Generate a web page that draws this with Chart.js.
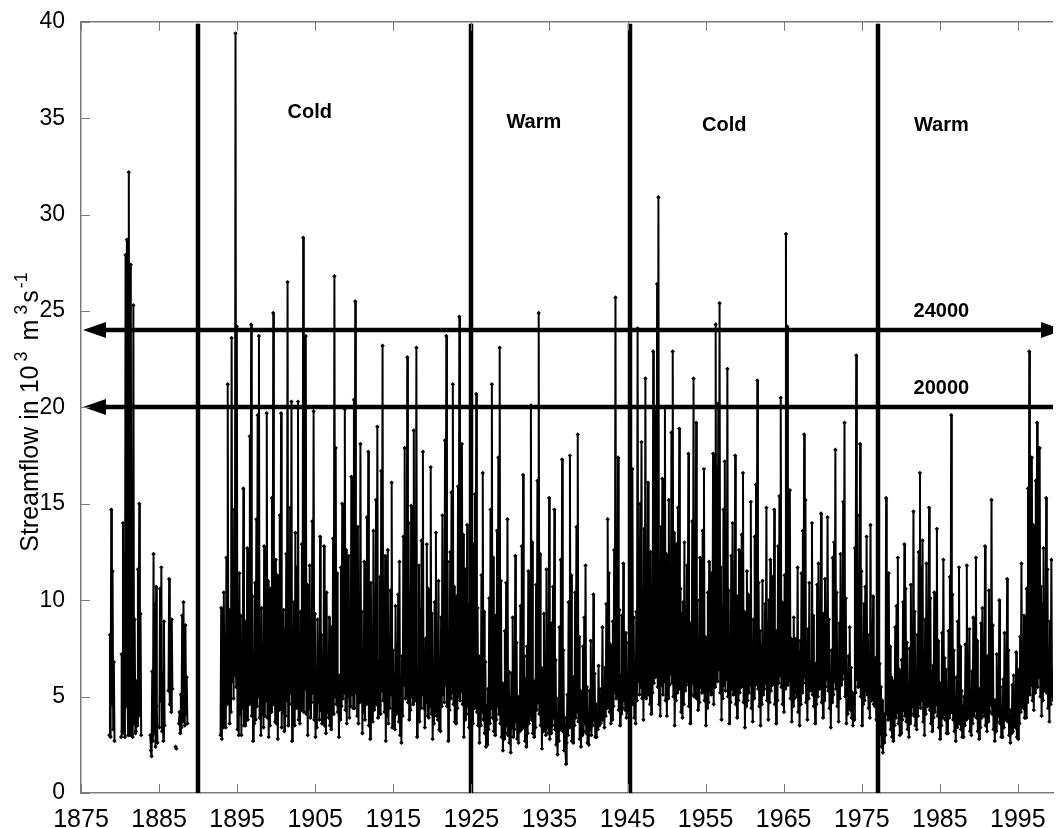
<!DOCTYPE html>
<html>
<head>
<meta charset="utf-8">
<title>Streamflow</title>
<script src="https://cdn.jsdelivr.net/npm/chart.js@4.4.1/dist/chart.umd.min.js"></script>
<style>
  html, body { margin: 0; padding: 0; background: #fff; }
  #wrap { width: 1057px; height: 828px; }
</style>
</head>
<body>
<div id="wrap"><canvas id="flowChart"></canvas></div>
<script>
// axis ticks
const xTicks = [1875, 1885, 1895, 1905, 1915, 1925, 1935, 1945, 1955, 1965, 1975, 1985, 1995];
const yTicks = [0, 5, 10, 15, 20, 25, 30, 35, 40];

// regime boundaries (years) and names
const regimeBreaks = [1890, 1924.9, 1945.3, 1977.1];
const regimeNames = ['Cold', 'Warm', 'Cold', 'Warm'];
const regimeNameYear = [1904.3, 1933.0, 1957.4, 1985.2];
const regimeNameFlow = [35.3, 34.8, 34.6, 34.6];

// flood thresholds (10^3 m3/s)
const thresholds = [24, 20];
const thresholdNames = ['24000', '20000'];
const thresholdNameYear = [1985.2, 1985.2];

// streamflow, 12 readings per year, one row per year (null = no record)
const flow1878 = [
  [null, null, null, null, null, null, null, 3.0, 8.2, 2.9, 14.7, 4.6],
  [11.5, 3.3, 6.8, 2.7, null, null, null, null, null, null, null, null],
  [null, 2.9, 7.2, 3.2, 14.0, 3.1, 12.4, 2.9, 27.9, 4.5, 28.7, 5.0],
  [3.0, 32.2, 6.1, 3.0, 27.4, 4.8, 12.8, 2.9, 25.3, 3.6, 9.0, 3.1],
  [3.2, 5.8, 3.5, 11.6, 4.0, 15.0, 4.1, 9.3, 3.0, null, null, null],
  [null, null, null, null, null, null, null, null, null, null, 3.0, 2.2],
  [1.9, 6.3, 2.7, 12.4, 3.1, 9.8, 2.4, 10.7, 4.5, 2.6, null, null],
  [3.4, 10.6, 4.8, 11.7, 3.2, 6.2, 2.7, 8.9, 3.5, null, null, null],
  [null, null, 5.3, 11.1, 4.6, 7.9, 4.2, 9.0, 5.4, null, null, null],
  [null, 2.4, 2.3, null, null, null, 3.6, 4.2, 3.1, 5.1, 3.4, 9.2],
  [3.7, 9.9, 5.0, 3.5, 8.7, 4.1, 6.0, 3.6, null, null, null, null]
];

const flow1892 = [
  [null, null, null, null, null, null, null, null, null, null, 3.0, 9.6],
  [2.8, 6.5, 3.4, 10.4, 4.1, 8.2, 3.4, 12.2, 4.6, 21.2, 5.3, 9.5],
  [3.6, 8.4, 4.2, 23.6, 5.8, 11.8, 4.9, 14.7, 6.1, 39.4, 5.5, 24.2],
  [3.3, 6.7, 3.0, 11.4, 4.1, 9.2, 3.0, 7.8, 4.4, 15.8, 3.5, 5.5],
  [3.5, 8.9, 4.3, 12.7, 3.8, 9.9, 4.6, 18.5, 5.2, 24.3, 4.0, 10.2],
  [2.7, 5.8, 3.6, 10.9, 3.8, 14.2, 4.5, 19.6, 5.0, 23.7, 3.9, 6.3],
  [3.0, 9.6, 4.1, 5.2, 3.4, 12.8, 4.0, 8.1, 4.8, 19.7, 3.9, 11.0],
  [2.9, 7.4, 3.5, 10.6, 4.2, 15.3, 5.1, 24.9, 4.6, 9.8, 3.7, 12.1],
  [3.6, 11.3, 2.8, 6.9, 4.3, 14.4, 5.0, 19.7, 3.4, 7.2, 4.2, 9.5],
  [3.2, 8.5, 4.0, 12.4, 4.8, 26.5, 3.5, 10.2, 4.6, 14.8, 5.2, 20.3],
  [2.7, 6.6, 3.9, 9.9, 3.5, 13.5, 4.4, 11.7, 5.0, 20.3, 3.8, 8.0],
  [3.6, 9.4, 4.3, 12.9, 5.1, 28.8, 4.2, 15.6, 5.4, 23.7, 4.1, 10.8],
  [3.0, 7.9, 4.4, 11.8, 3.9, 6.8, 4.7, 14.1, 5.2, 19.8, 3.8, 9.3],
  [2.9, 5.5, 3.4, 9.0, 4.7, 7.2, 3.8, 13.3, 4.3, 8.2, 3.6, 6.9],
  [4.0, 12.8, 3.5, 6.4, 3.1, 10.4, 4.2, 5.8, 3.9, 9.1, 3.5, 7.7],
  [3.3, 8.6, 4.9, 13.2, 4.1, 26.8, 5.0, 17.9, 4.6, 11.4, 4.2, 6.0],
  [2.9, 6.1, 3.8, 11.7, 4.5, 15.0, 4.9, 8.8, 5.2, 19.9, 4.3, 12.6],
  [3.6, 9.8, 5.0, 12.3, 3.9, 7.4, 4.5, 16.4, 5.1, 10.1, 4.4, 20.4],
  [4.4, 25.5, 5.2, 10.6, 4.0, 13.8, 3.6, 9.2, 4.7, 18.1, 4.8, 9.4],
  [3.1, 7.5, 4.2, 12.0, 3.8, 9.7, 4.6, 14.3, 5.0, 17.7, 3.5, 6.8],
  [2.8, 10.9, 4.1, 5.9, 3.7, 13.6, 4.3, 8.4, 5.0, 15.2, 4.6, 19.0],
  [3.9, 6.8, 4.6, 11.2, 4.1, 16.7, 5.3, 23.2, 4.8, 9.9, 4.2, 12.3],
  [2.7, 8.3, 4.0, 12.6, 3.6, 6.2, 4.4, 10.5, 5.1, 16.1, 3.4, 7.4],
  [3.5, 5.9, 3.3, 9.7, 4.1, 7.6, 4.5, 10.3, 3.7, 12.0, 3.0, 5.2],
  [2.6, 7.1, 4.0, 13.3, 5.6, 17.9, 4.9, 9.2, 5.3, 22.6, 4.7, 14.0],
  [3.8, 10.4, 4.3, 14.9, 5.0, 7.7, 4.6, 18.8, 5.2, 11.5, 4.8, 23.1],
  [2.9, 6.4, 4.0, 11.8, 3.7, 9.5, 4.4, 13.1, 5.1, 17.7, 4.4, 7.0],
  [3.4, 8.0, 4.7, 12.9, 4.0, 10.6, 3.9, 6.3, 4.5, 16.9, 4.1, 9.3],
  [2.8, 5.2, 3.6, 9.9, 4.2, 13.5, 4.0, 7.3, 3.8, 11.0, 3.3, 6.1],
  [3.2, 9.1, 4.5, 14.4, 5.1, 8.2, 4.7, 18.3, 5.6, 23.7, 4.5, 12.0],
  [2.7, 7.8, 4.3, 12.5, 4.9, 15.6, 5.2, 21.2, 4.6, 10.7, 3.7, 6.3],
  [3.6, 10.2, 4.4, 15.9, 5.0, 24.7, 4.8, 8.8, 5.3, 18.1, 4.6, 13.4],
  [2.9, 6.7, 3.8, 11.6, 4.1, 13.9, 4.5, 7.5, 3.4, 9.8, 3.9, 5.0]
];

const flow1925 = [
  [4.0, 8.7, 3.6, 12.9, 4.4, 15.5, 5.1, 20.7, 4.2, 9.6, 3.5, 7.1],
  [2.6, 7.0, 3.5, 11.3, 4.2, 16.6, 3.8, 9.4, 3.1, 6.8, 2.4, 4.5],
  [2.5, 5.4, 3.3, 10.1, 3.6, 14.7, 4.4, 21.2, 3.9, 12.2, 3.2, 4.0],
  [3.0, 9.2, 3.8, 13.6, 4.5, 17.4, 4.1, 23.1, 3.6, 11.0, 2.9, 5.7],
  [2.2, 4.6, 2.8, 8.4, 3.1, 10.9, 3.5, 14.2, 3.0, 6.3, 2.6, 5.0],
  [2.1, 6.2, 3.4, 9.1, 2.9, 4.5, 3.3, 12.3, 3.7, 7.8, 2.8, 4.9],
  [2.6, 5.0, 3.2, 9.7, 3.3, 12.8, 3.9, 16.5, 3.4, 7.1, 2.7, 5.9],
  [2.4, 7.6, 3.1, 11.5, 3.6, 6.6, 4.0, 20.1, 3.8, 13.0, 3.1, 5.2],
  [2.9, 5.8, 3.4, 10.8, 4.3, 16.2, 4.7, 24.9, 4.1, 12.4, 3.5, 6.5],
  [2.3, 6.4, 3.2, 9.3, 3.6, 4.8, 3.0, 11.6, 3.4, 7.0, 3.1, 15.3],
  [2.8, 5.6, 3.1, 8.8, 3.5, 10.7, 3.9, 14.7, 3.3, 6.9, 2.5, 4.0],
  [2.0, 4.9, 2.7, 8.6, 3.3, 12.1, 3.8, 17.3, 3.2, 7.4, 2.2, 3.9],
  [2.3, 1.5, 2.6, 5.1, 3.0, 9.9, 3.4, 17.5, 3.9, 11.3, 2.7, 4.6],
  [2.6, 6.0, 3.5, 10.4, 3.9, 13.8, 4.2, 18.6, 3.7, 8.1, 2.8, 5.3],
  [2.4, 4.4, 3.0, 7.6, 3.2, 9.1, 3.6, 11.8, 3.1, 5.5, 2.6, 4.0],
  [2.5, 5.3, 3.3, 7.9, 3.0, 4.1, 3.5, 10.3, 3.8, 6.2, 2.9, 4.6],
  [2.9, 4.3, 3.3, 6.6, 3.5, 5.4, 3.6, 4.0, 3.9, 8.6, 3.8, 5.1],
  [3.4, 6.5, 4.0, 9.8, 4.4, 14.2, 5.0, 11.4, 4.2, 7.7, 3.6, 5.3],
  [3.8, 8.9, 4.5, 12.6, 5.2, 25.7, 4.9, 13.1, 5.4, 17.4, 4.3, 9.5],
  [3.5, 6.1, 4.1, 9.2, 4.4, 11.9, 4.8, 7.0, 4.3, 8.3, 3.9, 5.6]
];

const flow1945 = [
  [4.2, 7.8, 4.6, 11.5, 5.3, 13.9, 5.7, 16.8, 4.6, 9.1, 3.9, 6.7],
  [3.6, 9.4, 4.8, 24.1, 5.8, 13.2, 5.1, 15.0, 5.5, 18.2, 4.9, 10.3],
  [3.8, 13.7, 5.0, 21.5, 4.9, 8.0, 5.4, 16.1, 5.1, 10.8, 4.6, 12.5],
  [4.1, 10.5, 5.2, 22.9, 5.7, 14.6, 6.0, 19.8, 6.3, 26.4, 5.5, 30.9],
  [4.6, 11.2, 4.0, 13.8, 5.6, 16.3, 5.1, 9.7, 5.8, 20.0, 4.8, 12.4],
  [4.0, 11.1, 4.9, 15.2, 5.6, 8.9, 6.2, 18.7, 5.7, 22.9, 5.0, 13.5],
  [3.5, 7.0, 4.8, 12.9, 5.2, 14.8, 5.9, 18.9, 5.4, 10.6, 4.2, 9.3],
  [3.9, 9.9, 4.6, 13.0, 5.3, 7.7, 5.6, 11.8, 5.8, 17.6, 4.5, 8.4],
  [3.6, 8.8, 5.1, 14.1, 5.7, 21.5, 5.0, 12.7, 5.5, 19.2, 4.9, 10.0],
  [4.3, 7.3, 4.7, 12.2, 5.5, 10.9, 5.2, 13.6, 5.9, 16.8, 4.8, 8.1],
  [3.5, 6.2, 4.4, 10.4, 4.7, 12.0, 5.3, 8.6, 5.1, 11.4, 5.6, 17.6],
  [4.6, 12.8, 5.5, 24.3, 6.1, 16.9, 5.8, 20.2, 6.4, 25.4, 5.2, 11.7],
  [3.8, 9.6, 4.9, 14.7, 5.6, 17.2, 5.3, 11.3, 5.9, 22.0, 5.0, 10.5],
  [3.6, 8.1, 4.7, 12.3, 5.4, 14.0, 5.1, 9.0, 5.7, 17.5, 4.6, 7.2],
  [3.9, 10.2, 4.8, 12.6, 5.2, 7.8, 5.5, 13.4, 5.9, 16.6, 4.7, 9.4],
  [3.4, 6.9, 4.5, 11.5, 4.8, 10.3, 5.2, 8.2, 5.6, 15.1, 4.4, 6.3],
  [3.7, 9.0, 4.9, 13.3, 5.6, 16.0, 6.0, 21.4, 5.4, 10.9, 4.5, 8.4],
  [3.5, 7.6, 4.6, 11.0, 5.1, 6.5, 5.4, 9.8, 5.7, 14.8, 4.8, 8.7],
  [3.8, 10.0, 4.7, 12.1, 5.3, 7.1, 5.6, 11.2, 5.9, 14.7, 4.6, 6.0],
  [3.6, 8.4, 4.8, 12.8, 5.7, 15.4, 6.1, 20.5, 5.5, 9.9, 4.6, 6.8],
  [4.2, 11.3, 5.4, 29.0, 6.0, 24.2, 5.6, 13.7, 5.8, 15.7, 4.9, 8.0],
  [3.7, 6.4, 4.5, 9.1, 4.9, 8.0, 5.2, 5.6, 5.0, 11.7, 4.2, 7.3],
  [3.5, 7.9, 4.6, 11.4, 5.2, 13.6, 5.7, 18.6, 6.0, 15.2, 4.7, 6.6],
  [3.8, 8.5, 4.9, 10.9, 5.3, 6.8, 5.6, 14.0, 5.1, 9.2, 4.5, 5.4],
  [3.6, 6.7, 4.6, 10.8, 5.0, 11.9, 5.4, 8.1, 5.8, 14.5, 4.7, 7.0],
  [3.9, 9.3, 4.8, 11.1, 5.5, 7.4, 5.9, 14.3, 5.3, 9.0, 4.4, 5.9],
  [3.4, 7.4, 4.7, 12.2, 5.1, 13.0, 5.8, 17.8, 5.4, 10.4, 4.5, 6.2],
  [3.7, 8.8, 4.9, 12.4, 5.6, 9.5, 5.9, 15.1, 6.2, 19.2, 5.0, 10.1],
  [3.6, 5.7, 4.1, 7.1, 4.4, 8.6, 4.3, 6.5, 3.9, 5.2, 3.5, 4.6],
  [3.8, 12.7, 5.2, 22.7, 5.9, 14.4, 5.5, 9.0, 6.1, 18.1, 5.0, 11.5],
  [3.5, 7.0, 4.6, 9.8, 4.8, 10.7, 5.3, 13.3, 5.1, 8.2, 4.4, 5.3],
  [3.9, 13.9, 4.8, 8.7, 5.1, 10.2, 4.6, 6.1, 4.5, 7.0, 3.8, 5.0]
];

const flow1977 = [
  [2.8, 4.2, 3.0, 6.7, 3.1, 5.5, 2.4, 4.8, 2.1, 3.6, 2.6, 4.1],
  [3.0, 15.3, 4.1, 9.1, 3.8, 11.4, 4.4, 7.6, 3.3, 6.0, 2.9, 5.2],
  [2.7, 5.8, 3.5, 8.6, 3.9, 9.7, 4.2, 12.2, 3.6, 6.4, 3.0, 5.0],
  [3.1, 6.9, 3.8, 9.9, 4.3, 12.9, 4.0, 10.6, 3.7, 7.8, 3.3, 5.3],
  [2.9, 7.5, 3.6, 10.8, 4.1, 6.2, 4.5, 14.6, 4.0, 9.4, 3.5, 4.9],
  [3.3, 8.2, 4.0, 12.5, 4.6, 16.6, 4.4, 11.7, 4.8, 13.1, 3.7, 7.3],
  [3.0, 9.0, 4.1, 11.9, 4.5, 8.0, 4.9, 14.8, 4.3, 10.1, 3.6, 6.3],
  [3.2, 6.6, 3.9, 10.4, 4.2, 9.5, 4.6, 13.7, 4.0, 7.9, 3.4, 5.1],
  [2.8, 5.7, 3.5, 8.3, 3.9, 12.1, 4.1, 7.0, 3.8, 6.4, 3.1, 4.6],
  [3.1, 8.4, 3.9, 11.2, 4.4, 19.6, 4.2, 10.3, 3.8, 7.4, 3.2, 4.9],
  [2.7, 6.0, 3.4, 8.9, 3.8, 11.7, 3.6, 7.6, 3.3, 5.3, 2.9, 4.5],
  [2.9, 5.0, 3.5, 7.7, 3.8, 11.8, 4.1, 6.8, 3.9, 8.5, 3.2, 4.4],
  [3.0, 6.3, 3.6, 9.1, 4.0, 5.6, 4.3, 12.2, 3.9, 7.9, 3.2, 4.3],
  [2.8, 5.4, 3.4, 8.8, 3.9, 9.6, 4.2, 6.7, 4.0, 12.8, 3.5, 5.1],
  [3.2, 7.1, 3.7, 10.5, 4.2, 6.9, 4.6, 15.2, 4.1, 8.7, 3.3, 4.8],
  [2.7, 4.8, 3.2, 7.2, 3.7, 6.4, 4.0, 10.0, 3.6, 5.5, 2.9, 4.2],
  [2.9, 5.9, 3.4, 8.3, 3.8, 5.0, 4.1, 11.1, 3.7, 7.4, 3.0, 4.0],
  [2.6, 4.3, 3.1, 5.6, 3.2, 6.1, 3.5, 4.5, 3.4, 7.3, 2.9, 3.6],
  [2.8, 6.4, 3.6, 8.1, 4.2, 11.9, 4.5, 7.0, 4.4, 9.2, 3.9, 5.1],
  [3.9, 10.6, 4.7, 15.8, 5.4, 22.9, 5.1, 12.3, 5.6, 17.4, 4.8, 13.9],
  [4.3, 12.0, 5.2, 16.2, 5.7, 19.2, 5.5, 14.6, 6.0, 17.9, 5.0, 10.7],
  [4.0, 9.8, 4.8, 12.7, 5.3, 8.4, 5.6, 15.3, 5.2, 11.6, 4.4, 7.2],
  [3.7, 8.9, 4.6, 12.1, 5.0, 6.3, 4.8, 10.5, 4.3, 7.8, 3.6, 5.4]
];

const records = [[1878, flow1878], [1892, flow1892], [1925, flow1925], [1945, flow1945], [1977, flow1977]];

const points = [];
records.forEach(([firstYear, rows]) => {
  rows.forEach((row, r) => {
    row.forEach((v, i) => points.push({ x: firstYear + r + (i + 0.5) / row.length, y: v }));
  });
});

const FONT = '"Liberation Sans", Arial, Helvetica, sans-serif';
const AXIS_GRAY = '#7a7a7a';

function arrowHead(ctx, tipX, yPx, dir) {
  ctx.beginPath();
  ctx.moveTo(tipX, yPx);
  ctx.lineTo(tipX + dir * 23, yPx - 8);
  ctx.lineTo(tipX + dir * 23, yPx + 8);
  ctx.closePath();
  ctx.fill();
}

const overlay = {
  id: 'overlay',
  afterDatasetsDraw(chart) {
    const { ctx, chartArea: a, scales: { x, y } } = chart;
    ctx.save();
    ctx.beginPath();
    ctx.rect(a.left, 0, a.right - a.left, a.bottom);
    ctx.clip();
    ctx.strokeStyle = '#000';
    ctx.fillStyle = '#000';

    // regime bars
    ctx.lineWidth = 4.5;
    regimeBreaks.forEach(yr => {
      const px = Math.round(x.getPixelForValue(yr));
      ctx.beginPath();
      ctx.moveTo(px, a.top + 2);
      ctx.lineTo(px, a.bottom);
      ctx.stroke();
    });

    // threshold arrows
    thresholds.forEach((t, i) => {
      const py = Math.round(y.getPixelForValue(t));
      ctx.lineWidth = 4.5;
      ctx.beginPath();
      ctx.moveTo(a.left + 15, py);
      ctx.lineTo(a.right + 10, py);
      ctx.stroke();
      arrowHead(ctx, a.left + 2, py, 1);
      if (i === 0) arrowHead(ctx, a.right + 11, py, -1);
    });

    // labels
    ctx.font = 'bold 20px ' + FONT;
    ctx.textAlign = 'center';
    ctx.textBaseline = 'middle';
    regimeNames.forEach((n, i) => {
      ctx.fillText(n, x.getPixelForValue(regimeNameYear[i]), y.getPixelForValue(regimeNameFlow[i]));
    });
    thresholdNames.forEach((n, i) => {
      ctx.fillText(n, x.getPixelForValue(thresholdNameYear[i]), y.getPixelForValue(thresholds[i]) - 19);
    });
    ctx.restore();
  },
  afterDraw(chart) {
    const { ctx, chartArea: a, scales: { x, y } } = chart;
    ctx.save();
    ctx.strokeStyle = AXIS_GRAY;
    ctx.lineWidth = 1.5;
    // box top
    ctx.beginPath();
    ctx.moveTo(a.left, a.top);
    ctx.lineTo(a.right, a.top);
    ctx.stroke();
    // inward ticks
    ctx.lineWidth = 1;
    ctx.beginPath();
    xTicks.forEach(t => {
      const px = Math.round(x.getPixelForValue(t)) + 0.5;
      ctx.moveTo(px, a.bottom); ctx.lineTo(px, a.bottom - 9);
      ctx.moveTo(px, a.top); ctx.lineTo(px, a.top + 9);
    });
    yTicks.forEach(t => {
      const py = Math.round(y.getPixelForValue(t)) + 0.5;
      ctx.moveTo(a.left, py); ctx.lineTo(a.left + 9, py);
    });
    ctx.stroke();

    // y-axis title with superscripts: [text, superscript?, gap after]
    const parts = [['Streamflow in 10', false, 4], ['3', true, 4], [' m', false, 5], ['3', true, 2], ['s', false, 2], ['-1', true, 0]];
    const big = '25px ' + FONT, small = '18px ' + FONT;
    let w = 0;
    parts.forEach(([s, sup, gap]) => { ctx.font = sup ? small : big; w += ctx.measureText(s).width + gap; });
    ctx.translate(38, 412);
    ctx.rotate(-Math.PI / 2);
    ctx.fillStyle = '#000';
    ctx.textBaseline = 'alphabetic';
    ctx.textAlign = 'left';
    let cx = -w / 2;
    parts.forEach(([s, sup, gap]) => {
      ctx.font = sup ? small : big;
      ctx.fillText(s, cx, sup ? -11 : 0);
      cx += ctx.measureText(s).width + gap;
    });
    ctx.restore();
  }
};

new Chart(document.getElementById('flowChart'), {
  type: 'line',
  data: {
    datasets: [{
      label: 'Streamflow',
      data: points,
      borderColor: '#000',
      borderWidth: 2,
      pointStyle: 'rectRot',
      pointRadius: 2.2,
      pointBackgroundColor: '#000',
      pointBorderWidth: 0,
      spanGaps: false,
      tension: 0
    }]
  },
  options: {
    responsive: true,
    maintainAspectRatio: false,
    animation: false,
    events: [],
    layout: { padding: { top: 20, right: 0, left: 0, bottom: 0 } },
    plugins: { legend: { display: false }, tooltip: { enabled: false } },
    scales: {
      x: {
        type: 'linear',
        min: 1875,
        max: 1999.5,
        afterBuildTicks: s => { s.ticks = xTicks.map(v => ({ value: v })); },
        afterFit: s => { s.height = 35; },
        grid: { display: false },
        border: { display: true, color: AXIS_GRAY, width: 1.5 },
        ticks: { color: '#000', font: { size: 25, family: FONT }, padding: 4, maxRotation: 0, autoSkip: false, callback: v => String(v) }
      },
      y: {
        min: 0,
        max: 40,
        afterBuildTicks: s => { s.ticks = yTicks.map(v => ({ value: v })); },
        afterFit: s => { s.width = 81; },
        grid: { display: false },
        border: { display: true, color: AXIS_GRAY, width: 1.5 },
        ticks: { color: '#000', font: { size: 23, family: FONT }, padding: 8, callback: v => String(v) }
      }
    }
  },
  plugins: [overlay]
});
</script>
</body>
</html>
